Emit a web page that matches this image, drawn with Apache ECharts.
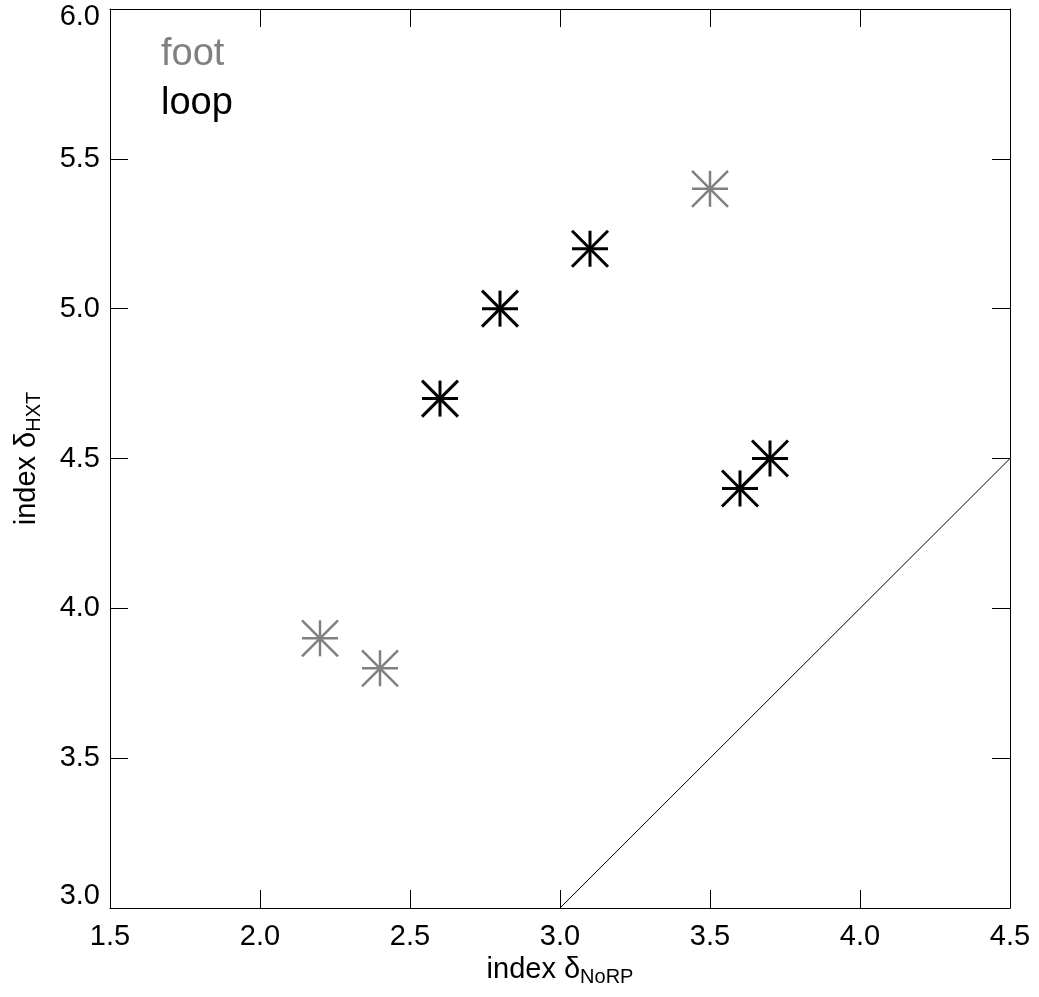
<!DOCTYPE html>
<html>
<head>
<meta charset="utf-8">
<script src="https://cdn.jsdelivr.net/npm/echarts@6/dist/echarts.min.js"></script>
<style>html,body{margin:0;padding:0;background:#fff}#c{width:1039px;height:997px}</style>
</head>
<body>
<div id="c"></div>
<script>
// Data
var footX = [2.2, 2.4, 3.5];
var footY = [3.9, 3.8, 5.4];
var loopX = [2.6, 2.8, 3.1, 3.6, 3.7];
var loopY = [4.7, 5.0, 5.2, 4.4, 4.5];
var pairX = [3.6, 3.7];
var pairY = [4.4, 4.5];
var diagX = [3.0, 4.5];
var diagY = [3.0, 4.5];
var xTicks = [1.5, 2.0, 2.5, 3.0, 3.5, 4.0, 4.5];
var yTicks = [3.0, 3.5, 4.0, 4.5, 5.0, 5.5, 6.0];

function zip(a, b) { return a.map(function (v, i) { return [v, b[i]]; }); }

var FONT = 'Liberation Sans';
var GREY = '#808080';

function asterisk(color, lw) {
  return function (params, api) {
    var p = api.coord([api.value(0), api.value(1)]);
    var r = 18;
    var st = { stroke: color, lineWidth: lw };
    return {
      type: 'group',
      children: [
        { type: 'line', shape: { x1: p[0] - r, y1: p[1], x2: p[0] + r, y2: p[1] }, style: st },
        { type: 'line', shape: { x1: p[0], y1: p[1] - r, x2: p[0], y2: p[1] + r }, style: st },
        { type: 'line', shape: { x1: p[0] - r, y1: p[1] - r, x2: p[0] + r, y2: p[1] + r }, style: st },
        { type: 'line', shape: { x1: p[0] - r, y1: p[1] + r, x2: p[0] + r, y2: p[1] - r }, style: st }
      ]
    };
  };
}

var axisCommon = {
  interval: 0.5,
  axisLine: { lineStyle: { color: '#000', width: 1 } },
  axisTick: { inside: true, length: 18, lineStyle: { color: '#000', width: 1 } },
  splitLine: { show: false }
};

function mk(extra) { return Object.assign({}, JSON.parse(JSON.stringify(axisCommon)), extra); }

var yMin = yTicks[0], yMax = yTicks[yTicks.length - 1];

var chart = echarts.init(document.getElementById('c'));
chart.setOption({
  backgroundColor: '#fff',
  animation: false,
  grid: { left: 110, right: 29, top: 9, bottom: 89, containLabel: false, outerBoundsMode: 'none' },
  legend: {
    left: 151, top: 31, orient: 'vertical', icon: 'none', itemWidth: 0, itemGap: 11,
    selectedMode: false,
    textStyle: { fontFamily: FONT, fontSize: 38, lineHeight: 38 },
    data: [
      { name: 'foot', textStyle: { color: GREY } },
      { name: 'loop', textStyle: { color: '#000' } }
    ]
  },
  xAxis: [
    mk({
      type: 'value', position: 'bottom', min: xTicks[0], max: xTicks[xTicks.length - 1],
      axisLabel: { fontFamily: FONT, fontSize: 29, color: '#000', margin: 14,
        formatter: function (v) { return v.toFixed(1); } },
      name: '{m|index δ}{s|NoRP}', nameLocation: 'middle', nameGap: 45,
      nameTextStyle: { rich: {
        m: { fontFamily: FONT, fontSize: 29, color: '#000' },
        s: { fontFamily: FONT, fontSize: 20, color: '#000', padding: [14, 0, 0, 0] }
      } }
    }),
    mk({
      type: 'value', position: 'top', min: xTicks[0], max: xTicks[xTicks.length - 1],
      axisLabel: { show: false }
    })
  ],
  yAxis: [
    mk({
      type: 'value', position: 'left', min: yMin, max: yMax,
      axisLabel: { fontFamily: FONT, fontSize: 29, color: '#000', margin: 10,
        formatter: function (v) {
          var t = v.toFixed(1);
          if (Math.abs(v - yMax) < 1e-9) return '{top|' + t + '}';
          if (Math.abs(v - yMin) < 1e-9) return '{bot|' + t + '}';
          return t;
        },
        rich: {
          top: { fontFamily: FONT, fontSize: 29, color: '#000', padding: [16, 0, 0, 0] },
          bot: { fontFamily: FONT, fontSize: 29, color: '#000', padding: [0, 0, 24, 0] }
        }
      },
      name: '{m|index δ}{s|HXT}', nameLocation: 'middle', nameGap: 66,
      nameTextStyle: { rich: {
        m: { fontFamily: FONT, fontSize: 29, color: '#000' },
        s: { fontFamily: FONT, fontSize: 20, color: '#000', padding: [14, 0, 0, 0] }
      } }
    }),
    mk({
      type: 'value', position: 'right', min: yMin, max: yMax,
      axisLabel: { show: false }
    })
  ],
  series: [
    {
      name: 'diag', type: 'line', data: zip(diagX, diagY), symbol: 'none',
      lineStyle: { color: '#000', width: 1 }, silent: true
    },
    {
      name: 'pair', type: 'line', data: zip(pairX, pairY), symbol: 'none',
      lineStyle: { color: '#000', width: 3 }, silent: true
    },
    {
      name: 'foot', type: 'custom', data: zip(footX, footY),
      itemStyle: { color: GREY },
      renderItem: asterisk(GREY, 2.5)
    },
    {
      name: 'loop', type: 'custom', data: zip(loopX, loopY),
      itemStyle: { color: '#000' },
      renderItem: asterisk('#000', 3)
    }
  ]
});
</script>
</body>
</html>
